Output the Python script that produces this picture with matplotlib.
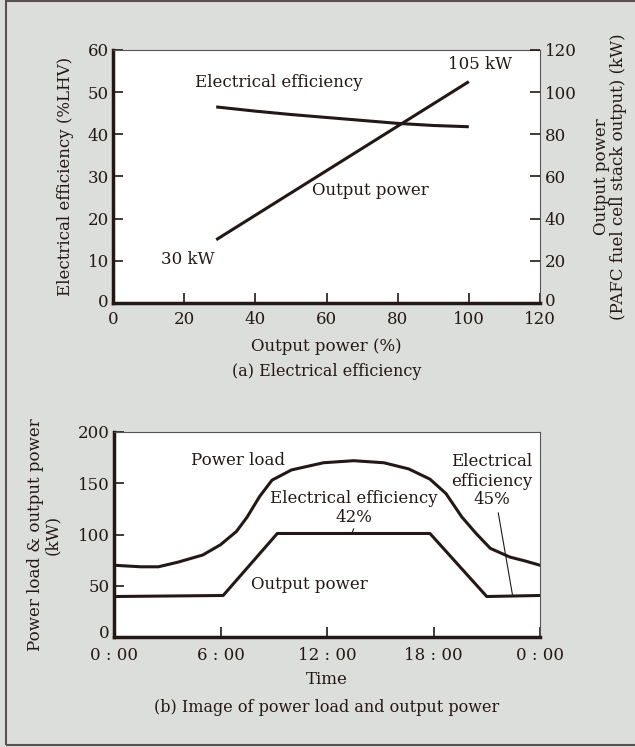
import matplotlib
matplotlib.use("Agg")
import matplotlib.pyplot as plt
import matplotlib.transforms as mtransforms
from matplotlib.patches import Rectangle

plt.rcParams['font.family'] = ['DejaVu Serif']
plt.rcParams['mathtext.fontset'] = 'dejavuserif'

# ---- Data: panel (a)
pct = [29, 40, 50, 60, 70, 80, 90, 100]
efficiency = [46.5, 45.5, 44.7, 44.0, 43.3, 42.6, 42.1, 41.8]
out_pct = [29, 100]
out_kw = [30, 105]

# ---- Data: panel (b)
load_h = [0, 1.5, 2.5, 3.6, 5.0, 6.0, 6.9, 7.5, 8.2, 8.9, 10.0, 11.8, 13.5,
          15.2, 16.6, 17.8, 18.7, 19.6, 20.4, 21.2, 22.3, 23.2, 24]
load_kw = [70, 68.5, 68.5, 73, 80, 90, 103, 117, 137, 153, 163, 170, 172,
           170, 164, 154, 140, 117, 101, 86.5, 78, 74, 70]
outp_h = [0, 6.15, 9.2, 17.8, 21.0, 24]
outp_kw = [39.5, 40.5, 101, 101, 39.5, 40.5]

xticks_a = [0, 20, 40, 60, 80, 100, 120]
yticks_a = [0, 10, 20, 30, 40, 50, 60]
y2ticks_a = [0, 20, 40, 60, 80, 100, 120]
xticks_b = [0, 6, 12, 18, 24]
xlabels_b = ['0 : 00', '6 : 00', '12 : 00', '18 : 00', '0 : 00']
yticks_b = [0, 50, 100, 150, 200]

BG = '#dcdedc'
INK = '#231815'
FS = 12

fig = plt.figure(figsize=(6.35, 7.47), dpi=100, facecolor=BG)
fig.patches.append(Rectangle((6/635, 2/747), 1 - 6/635 + 0.01, 1 - 3/747,
                             transform=fig.transFigure, fill=False,
                             edgecolor='#5a5050', linewidth=1.5))

def style(ax):
    ax.set_facecolor('white')
    for s in ['left', 'bottom']:
        ax.spines[s].set_linewidth(2.5)
        ax.spines[s].set_color(INK)
    for s in ['top', 'right']:
        ax.spines[s].set_linewidth(0.8)
        ax.spines[s].set_color('#555555')
    ax.tick_params(direction='in', length=7, width=1.2, color=INK,
                   labelsize=FS, labelcolor=INK, pad=3)

def lift(label, px):
    label.set_transform(label.get_transform() +
                        mtransforms.ScaledTranslation(0, px/100, fig.dpi_scale_trans))

# ---- Panel (a)
ax1 = fig.add_axes([113/635, 1 - 303/747, 427/635, 253/747])
style(ax1)
ax1.plot(pct, efficiency, color=INK, lw=2.2, solid_capstyle='butt')
ax1.set_xlim(0, 120)
ax1.set_ylim(0, 60)
ax1.set_xticks(xticks_a)
ax1.set_yticks(yticks_a)
ax1.tick_params(axis='x', pad=6)
ax1.set_ylabel('Electrical efficiency (%LHV)', fontsize=FS, color=INK, labelpad=10)
ax1.set_xlabel('Output power (%)', fontsize=FS, color=INK, labelpad=7)
ax2 = ax1.twinx()
ax2.plot(out_pct, out_kw, color=INK, lw=2.2, solid_capstyle='butt')
ax2.set_ylim(0, 120)
ax2.set_yticks(y2ticks_a)
ax2.tick_params(direction='in', length=7, width=1.2, color=INK,
                labelsize=FS, labelcolor=INK)
for s in ax2.spines.values():
    s.set_visible(False)
ax2.set_ylabel('Output power\n(PAFC fuel cell stack output) (kW)',
               fontsize=FS, color=INK, labelpad=12, linespacing=1.0)
lift(ax2.get_yticklabels()[0], 3)
lift(ax1.get_yticklabels()[0], 2)
ax1.text(46.6, 52.2, 'Electrical efficiency', ha='center', va='center', fontsize=FS, color=INK)
ax1.text(103.2, 56.6, '105 kW', ha='center', va='center', fontsize=FS, color=INK)
ax1.text(72.2, 26.6, 'Output power', ha='center', va='center', fontsize=FS, color=INK)
ax1.text(21, 10.3, '30 kW', ha='center', va='center', fontsize=FS, color=INK)
fig.text(0.5 * (113 + 540) / 635, 1 - 372/747, '(a) Electrical efficiency',
         ha='center', va='center', fontsize=FS - 0.5, color=INK)

# ---- Panel (b)
ax3 = fig.add_axes([114/635, 1 - 637/747, 426/635, 205/747])
style(ax3)
ax3.plot(load_h, load_kw, color=INK, lw=2.2)
ax3.plot(outp_h, outp_kw, color=INK, lw=2.2)
ax3.set_xlim(0, 24)
ax3.set_ylim(0, 200)
ax3.set_xticks(xticks_b)
ax3.set_xticklabels(xlabels_b)
ax3.set_yticks(yticks_b)
ax3.tick_params(axis='x', pad=7)
ax3.set_xlabel('Time', fontsize=FS, color=INK, labelpad=5)
ax3.set_ylabel('Power load & output power\n(kW)', fontsize=FS, color=INK,
               labelpad=12, linespacing=1.0)
lift(ax3.get_yticklabels()[0], 5)
ax3.text(7.0, 172, 'Power load', ha='center', va='center', fontsize=FS, color=INK)
ax3.text(11.0, 51.5, 'Output power', ha='center', va='center', fontsize=FS, color=INK)
ax3.text(13.5, 135, 'Electrical efficiency', ha='center', va='center', fontsize=FS, color=INK)
ax3.text(13.5, 117, '42%', ha='center', va='center', fontsize=FS, color=INK)
ax3.plot([13.5, 13.4], [105.5, 101], color=INK, lw=0.8)
ax3.text(21.3, 171, 'Electrical', ha='center', va='center', fontsize=FS, color=INK)
ax3.text(21.3, 152, 'efficiency', ha='center', va='center', fontsize=FS, color=INK)
ax3.text(21.3, 134, '45%', ha='center', va='center', fontsize=FS, color=INK)
ax3.plot([21.65, 22.45], [121, 41], color=INK, lw=0.8)
fig.text(0.5 * (114 + 540) / 635, 1 - 707/747, '(b) Image of power load and output power',
         ha='center', va='center', fontsize=FS - 0.5, color=INK)

fig.savefig('out.png', dpi=100, facecolor=BG)
